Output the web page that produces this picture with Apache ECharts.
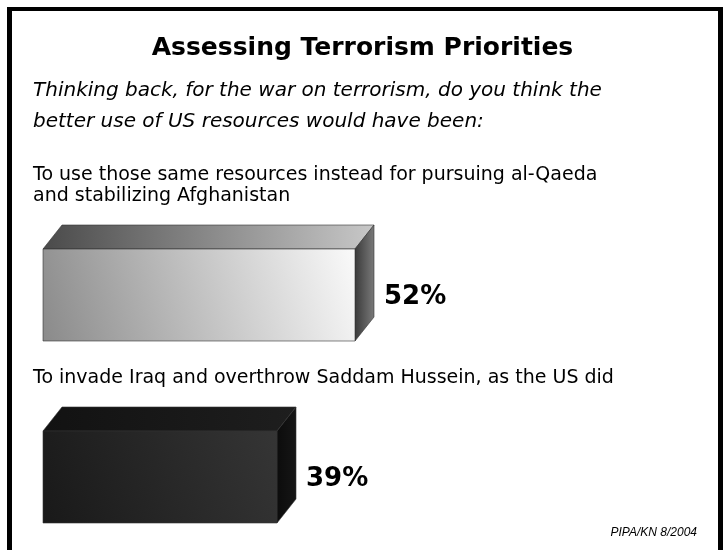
<!DOCTYPE html>
<html><head><meta charset="utf-8">
<script src="https://cdn.jsdelivr.net/npm/echarts@6/dist/echarts.min.js"></script>
<style>html,body{margin:0;padding:0;background:#fff}#c{width:725px;height:550px}</style>
</head><body><div id="c"></div>
<script>
const categories = [
  "To use those same resources instead for pursuing al-Qaeda\nand stabilizing Afghanistan",
  "To invade Iraq and overthrow Saddam Hussein, as the US did"
];
const values = [52, 39];
const valueLabels = ["52%", "39%"];
const titleText = "Assessing Terrorism Priorities";
const subtitleText = "Thinking back, for the war on terrorism, do you think the\nbetter use of US resources would have been:";
const sourceText = "PIPA/KN 8/2004";

const palettes = [
  {front:['#8a8a8a','#fafafa'], top:['#4a4a4a','#c8c8c8'], side:['#3a3a3a','#7a7a7a']},
  {front:['#191919','#353535'], top:['#121212','#1e1e1e'], side:['#0c0c0c','#161616']}
];

const chart = echarts.init(document.getElementById('c'));
function lg(x0,y0,x1,y1,c0,c1){return new echarts.graphic.LinearGradient(x0,y0,x1,y1,[{offset:0,color:c0},{offset:1,color:c1}]);}

chart.setOption({
  backgroundColor:'#fff',
  animation:false,
  title:[
    {text:titleText,left:'center',top:31,textStyle:{fontFamily:'DejaVu Sans',fontWeight:'bold',fontSize:25,color:'#000'}},
    {text:subtitleText,left:28,top:70,textStyle:{fontFamily:'DejaVu Sans',fontStyle:'italic',fontWeight:'normal',fontSize:20,lineHeight:31,color:'#000'}},
    {text:sourceText,right:23,top:522,textStyle:{fontFamily:'Liberation Sans',fontStyle:'italic',fontWeight:'normal',fontSize:12,color:'#000'}}
  ],
  grid:{left:43,right:82,top:295,bottom:73},
  xAxis:{type:'value',min:0,max:100,show:false},
  yAxis:{type:'category',data:categories,inverse:true,boundaryGap:false,show:false},
  graphic:[
    {type:'rect',shape:{x:7,y:7,width:5,height:543},style:{fill:'#000'}},
    {type:'rect',shape:{x:7,y:7,width:716,height:4},style:{fill:'#000'}},
    {type:'rect',shape:{x:718,y:7,width:5,height:543},style:{fill:'#000'}}
  ],
  series:[{
    type:'custom',
    data:values.map((v,i)=>[v,i]),
    encode:{x:0,y:1},
    renderItem:function(params,api){
      const i=api.value(1);
      const p1=api.coord([api.value(0),i]);
      const p0=api.coord([0,i]);
      const c=p1[1], x0=p0[0], x1=p1[0];
      const h=46, dx=19, dy=24;
      const yT=c-h, yB=c+h;
      const pal=palettes[i];
      return {type:'group',children:[
        {type:'text',style:{text:categories[i],x:33,y:c-88,textVerticalAlign:'bottom',textAlign:'left',font:'19px "DejaVu Sans"',lineHeight:21,fill:'#000'}},
        {type:'polygon',shape:{points:[[x0,yT],[x0+dx,yT-dy],[x1+dx,yT-dy],[x1,yT]]},style:{fill:lg(0,0,1,0,pal.top[0],pal.top[1]),stroke:'#333',lineWidth:0.6}},
        {type:'polygon',shape:{points:[[x1,yT],[x1+dx,yT-dy],[x1+dx,yB-dy],[x1,yB]]},style:{fill:lg(1,0,0,0,pal.side[1],pal.side[0]),stroke:'#333',lineWidth:0.6}},
        {type:'rect',shape:{x:x0,y:yT,width:x1-x0,height:yB-yT},style:{fill:lg(0,1,1,0,pal.front[0],pal.front[1]),stroke:'#333',lineWidth:0.6}},
        {type:'text',style:{text:valueLabels[i],x:x1+dx+10,y:c+2,textVerticalAlign:'middle',font:'bold 26px "DejaVu Sans"',fill:'#000'}}
      ]};
    }
  }]
});
</script></body></html>
